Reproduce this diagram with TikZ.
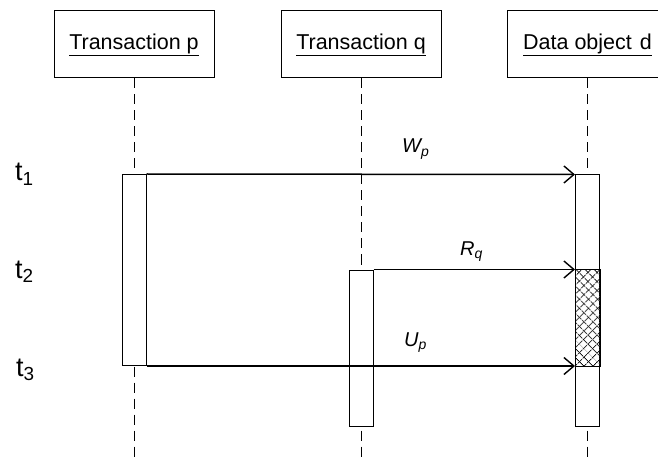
\documentclass[tikz,border=0pt]{standalone}
\usepackage{fontspec}
\setmainfont{Liberation Sans}
\usetikzlibrary{arrows.meta}
\usetikzlibrary{patterns.meta}
\usetikzlibrary{positioning}

\begin{document}
\begin{tikzpicture}[x=1pt,y=-1pt,
	objbox/.style={draw, line width=1pt, minimum width=160pt, minimum height=67pt, inner sep=0pt, font=\fontsize{21.5}{25}\selectfont},
	actbox/.style={draw, fill=white, line width=1pt, minimum width=24pt, inner sep=0pt},
	lifeline/.style={line width=1pt, dash pattern=on 10pt off 6pt},
	msg/.style={line width=1.5pt, -{Straight Barb[length=10pt,width=17pt,line width=1.4pt]}},
	lbl/.style={font=\fontsize{20}{23}\selectfont\itshape, anchor=base west, inner sep=0pt},
	tlbl/.style={font=\fontsize{27}{30}\selectfont, anchor=base west, inner sep=0pt}]
				
				\useasboundingbox (0,0) rectangle (658,462);
				\coordinate (bottom) at (0,462);
				
				% Objects and their lifelines
				\node[objbox] (tp) at (134,44.5) {\underline{Transaction p}};
				\node[objbox] (tq) at (361,44.5) {\underline{Transaction q}};
				\node[objbox] (dd) at (587.5,44.5) {\underline{Data object\hspace{2pt} d}};
				\draw[lifeline] (tp.south) -- (tp.south |- bottom);
				\draw[lifeline] (tq.south) -- (tq.south |- bottom);
				\draw[lifeline] (dd.south) -- (dd.south |- bottom);
				
				% Activations
				\node[actbox, minimum height=191pt] (ap) at (134,270) {};
				\node[actbox, minimum height=156pt] (aq) at (361,348) {};
				\node[actbox, minimum height=251pt] (ad) at (587.5,300.5) {};
				
				% Locked part of d
				\path[pattern={Lines[angle=45,distance=6.5pt,line width=1pt]}] (ad.west |- aq.north) rectangle (ad.east |- ap.south);
				\draw[line width=1pt, pattern={Lines[angle=-45,distance=6.5pt,line width=1pt]}] (ad.west |- aq.north) rectangle (ad.east |- ap.south);
				
				% Messages
				\draw[msg] (ap.north east) -- (ad.north west);
				\draw[msg] (aq.north east) -- (ad.west |- aq.north);
				\draw[msg] (ap.south east) -- (ad.west |- ap.south);
				\node[lbl] (wp) at (402,153) {W\textsubscript{p}};
				\node[lbl] (rq) at (460,255) {R\textsubscript{q}};
				\node[lbl] (up) at (404,346) {U\textsubscript{p}};
				
				% Time steps
				\node[tlbl] (t1) at (15,181) {t\textsubscript{1}};
				\node[tlbl] (t2) at (15,278) {t\textsubscript{2}};
				\node[tlbl] (t3) at (16,376) {t\textsubscript{3}};
				
			\end{tikzpicture}
\end{document}
